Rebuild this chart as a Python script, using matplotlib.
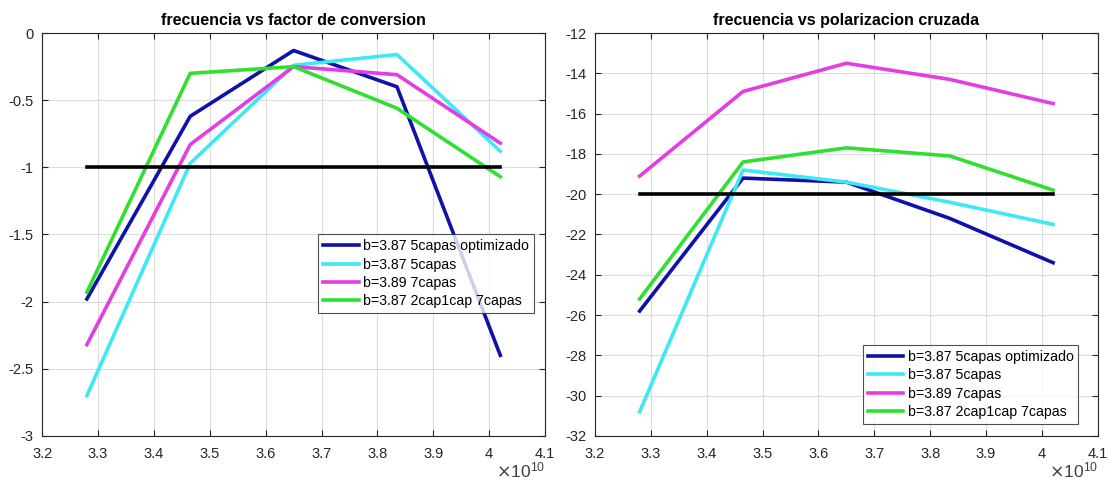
import matplotlib.pyplot as plt
import numpy as np

plt.rcParams['font.family'] = ['Liberation Sans', 'DejaVu Sans']

freq = np.array([3.28, 3.465, 3.65, 3.835, 4.02]) * 1e10

labels = ['b=3.87 5capas optimizado', 'b=3.87 5capas', 'b=3.89 7capas', 'b=3.87 2cap1cap 7capas']
colors = ['#1010aa', '#3ee8f5', '#e23ee2', '#30e030']

conv_opt = [-1.98, -0.62, -0.13, -0.40, -2.40]
conv_5 = [-2.70, -0.97, -0.24, -0.16, -0.88]
conv_7 = [-2.32, -0.83, -0.25, -0.31, -0.82]
conv_2c = [-1.93, -0.30, -0.25, -0.56, -1.07]
conv_ref = -1

pol_opt = [-25.8, -19.2, -19.4, -21.2, -23.4]
pol_5 = [-30.8, -18.8, -19.4, -20.4, -21.5]
pol_7 = [-19.1, -14.9, -13.5, -14.3, -15.5]
pol_2c = [-25.2, -18.4, -17.7, -18.1, -19.8]
pol_ref = -20


def style(ax):
    ax.grid(True, color='#dcdcdc', linewidth=0.8)
    ax.set_axisbelow(True)
    ax.tick_params(direction='in', top=True, right=True, labelsize=10.5,
                   colors='#262626', length=4)
    ax.tick_params(axis='x', pad=8)
    ax.tick_params(axis='y', pad=6)
    for s in ax.spines.values():
        s.set_color('#262626')
        s.set_linewidth(0.8)


fig = plt.figure(figsize=(11.1, 4.86), dpi=100)
ax1 = fig.add_axes([0.038, 0.103, 0.453, 0.829])
ax2 = fig.add_axes([0.536, 0.103, 0.453, 0.829])

for ax, series, ref, leg_loc in [
    (ax1, [conv_opt, conv_5, conv_7, conv_2c], conv_ref, (0.549, 0.305)),
    (ax2, [pol_opt, pol_5, pol_7, pol_2c], pol_ref, (0.533, 0.03)),
]:
    for vals, c, lab in zip(series, colors, labels):
        ax.plot(freq, vals, color=c, linewidth=2.6, label=lab)
    ax.plot([freq[0], freq[-1]], [ref, ref], color='black', linewidth=2.6)
    style(ax)
    ax.set_xlim(3.2e10, 4.1e10)
    ax.set_xticks(np.arange(3.2, 4.11, 0.1) * 1e10)
    leg = ax.legend(loc='lower left', bbox_to_anchor=leg_loc, fontsize=10.2,
                    frameon=True, fancybox=False, edgecolor='#262626',
                    handlelength=2.5, borderpad=0.35, labelspacing=0.3,
                    handletextpad=0.3, borderaxespad=0)
    leg.get_frame().set_linewidth(0.8)

ax1.set_ylim(-3, 0)
ax1.set_yticks([-3, -2.5, -2, -1.5, -1, -0.5, 0])
ax1.set_yticklabels(['-3', '-2.5', '-2', '-1.5', '-1', '-0.5', '0'])
ax1.set_title('frecuencia vs factor de conversion', fontsize=11.5, fontweight='bold', pad=6)

ax2.set_ylim(-32, -12)
ax2.set_yticks(np.arange(-32, -11, 2))
ax2.set_yticklabels([str(v) for v in range(-32, -11, 2)])
ax2.set_title('frecuencia vs polarizacion cruzada', fontsize=11.5, fontweight='bold', pad=6)

for ax in (ax1, ax2):
    ax.set_xticklabels(['3.2', '3.3', '3.4', '3.5', '3.6', '3.7', '3.8', '3.9', '4', '4.1'])
    ax.text(1.0, -0.06, r'$\times\mathregular{10^{10}}$', transform=ax.transAxes,
            ha='right', va='top', fontsize=12.5, color='#404040')

fig.savefig('out.png', dpi=100)
